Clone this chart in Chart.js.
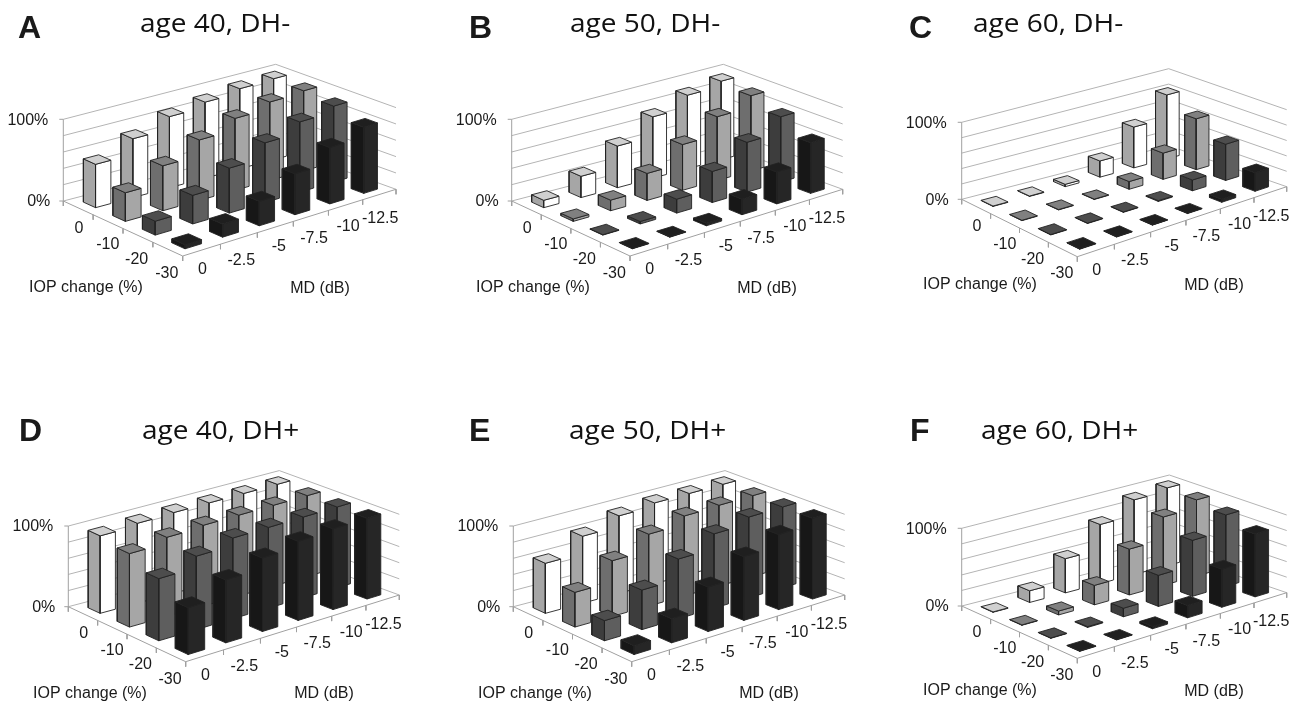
<!DOCTYPE html>
<html>
<head>
<meta charset="utf-8">
<title>IOP change and MD by age and DH</title>
<script src="https://cdn.jsdelivr.net/npm/chart.js@4"></script>
<style>
  html, body { margin: 0; padding: 0; background: #fff; }
  #page { position: relative; width: 1302px; height: 704px; overflow: hidden; }
  canvas { position: absolute; }
</style>
</head>
<body>
<div id="page"></div>
<script>
// categories
const iopLabels = ['0', '-10', '-20', '-30'];
const mdLabels = ['0', '-2.5', '-5', '-7.5', '-10', '-12.5'];
const zLabels = ['0%', '100%'];
const zLevels = [0, 20, 40, 60, 80, 100];

// series, one row per IOP change, one column per MD (%)
const valuesA = [
    [53, 72, 87, 93, 98, 99],
    [35, 55, 74, 88, 96, 98],
    [17, 35, 55, 73, 86, 93],
    [5, 16, 30, 50, 69, 81]
];
const valuesB = [
    [9, 26, 51, 75, 90, 96],
    [3, 13, 33, 56, 78, 92],
    [0.5, 3, 17, 38, 61, 80],
    [0.5, 0.5, 3, 19, 39, 62]
];
const valuesC = [
    [0.5, 0.5, 3, 21, 53, 83],
    [0.5, 0.5, 0.5, 10, 34, 66],
    [0.5, 0.5, 0.5, 1, 14, 47],
    [0.5, 0.5, 0.5, 0.5, 4, 24]
];
const valuesD = [
    [96, 99, 100, 100, 100, 100],
    [91, 98, 100, 100, 100, 100],
    [77, 91, 100, 100, 100, 100],
    [58, 78, 91, 98, 100, 100]
];
const valuesE = [
    [62, 83, 96, 100, 100, 100],
    [43, 69, 89, 99, 100, 100],
    [25, 49, 74, 92, 100, 100],
    [11, 30, 55, 79, 93, 100]
];
const valuesF = [
    [0.5, 15, 44, 76, 96, 100],
    [0.5, 5, 25, 59, 88, 98],
    [0.5, 1, 11, 40, 72, 92],
    [0.5, 0.5, 3, 16, 49, 81]
];

// one colour set per IOP row: top, left face, right face
const rowColors = [
    ['#d0d0d0', '#a6a6a6', '#ffffff'],
    ['#808080', '#6e6e6e', '#a6a6a6'],
    ['#4d4d4d', '#3d3d3d', '#5e5e5e'],
    ['#1f1f1f', '#171717', '#262626']
];
const edgeColor = '#222222';
const gridColor = '#b4b4b4';
const axisColor = '#a0a0a0';

// layout of each panel, page pixels. L/F/R/B = floor corners left, front, right, back
const panels = [
    { letter: 'A', title: 'age 40, DH-', values: valuesA, col: 0, row: 0,
      L: [63.3, 201], F: [182.7, 256], R: [396, 189.3], B: [275.7, 146], H: 81.7,
      letterAt: [18, 37.5], titleAt: [140, 32], iopAt: [86, 288], mdAt: [320, 289] },
    { letter: 'B', title: 'age 50, DH-', values: valuesB, col: 1, row: 0,
      L: [511.7, 201], F: [630, 256], R: [842.7, 189.3], B: [723.3, 146], H: 81.7,
      letterAt: [469, 37.5], titleAt: [570, 32], iopAt: [533, 288], mdAt: [767, 289] },
    { letter: 'C', title: 'age 60, DH-', values: valuesC, col: 2, row: 0,
      L: [961.7, 199.3], F: [1077.3, 256.7], R: [1286.7, 186.7], B: [1168.7, 145.7], H: 77,
      letterAt: [909, 37.5], titleAt: [973, 32], iopAt: [980, 285], mdAt: [1214, 286] },
    { letter: 'D', title: 'age 40, DH+', values: valuesD, col: 0, row: 1,
      L: [68.3, 606.7], F: [185.7, 661.7], R: [399.3, 595], B: [279.3, 551.3], H: 80.7,
      letterAt: [19, 441], titleAt: [142, 439], iopAt: [90, 694], mdAt: [324, 694] },
    { letter: 'E', title: 'age 50, DH+', values: valuesE, col: 1, row: 1,
      L: [513.3, 606.7], F: [631.7, 661.7], R: [844.7, 595], B: [725, 551.3], H: 80.7,
      letterAt: [469, 441], titleAt: [569, 439], iopAt: [535, 694], mdAt: [769, 694] },
    { letter: 'F', title: 'age 60, DH+', values: valuesF, col: 2, row: 1,
      L: [961.7, 606], F: [1077.3, 658.3], R: [1286.7, 592.7], B: [1169.3, 552.7], H: 77.7,
      letterAt: [910, 441], titleAt: [981, 439], iopAt: [980, 691], mdAt: [1214, 692] }
];

const panelW = 434, panelH = 352;

// label nudges from the axis edge, excel staggers them a bit
const iopNudge = [[0.7, 20.3], [-0.3, 23.3], [-1.3, 24], [-1, 24.3]];
const mdNudge = [[0.7, 19.7], [2.3, 22.3], [3.3, 20], [3, 22.3], [2.3, 21.7], [0.7, 24.3]];

// s runs along MD (front to right), t along IOP (front to left)
function floorPoint(p, s, t) {
    const w = s + 0.075 * s * (1 - s); // rough perspective
    const lerp = k => p.F[k] * (1 - w) * (1 - t) + p.R[k] * w * (1 - t) + p.L[k] * (1 - w) * t + p.B[k] * w * t;
    return { x: lerp(0), y: lerp(1) };
}
function point3d(p, s, t, v) {
    const q = floorPoint(p, s, t);
    return { x: q.x, y: q.y - p.H * v / 100 };
}

function buildDatasets(p) {
    const sets = [];
    const line = (pts, color) => sets.push({
        data: pts, showLine: true, fill: false, borderColor: color, borderWidth: 1,
        pointRadius: 0, clip: false, order: -sets.length
    });
    const face = (pts, color) => sets.push({
        data: pts.concat([pts[0]]), showLine: true, fill: 'shape', backgroundColor: color,
        borderColor: edgeColor, borderWidth: 0.9, borderJoinStyle: 'round',
        pointRadius: 0, clip: false, order: -sets.length
    });

    // back walls
    zLevels.forEach(z => {
        line([point3d(p, 0, 1, z), point3d(p, 1, 1, z), point3d(p, 1, 0, z)], gridColor);
    });
    line([point3d(p, 0, 1, 0), point3d(p, 0, 1, 100)], axisColor);
    [0, 100].forEach(z => {
        const a = point3d(p, 0, 1, z);
        line([a, { x: a.x - 4, y: a.y }], axisColor);
    });

    // floor edges and tick marks
    line([point3d(p, 0, 1, 0), point3d(p, 0, 0, 0), point3d(p, 1, 0, 0)], axisColor);
    for (let j = 0; j <= iopLabels.length; j++) {
        const a = floorPoint(p, 0, j / iopLabels.length);
        line([a, { x: a.x, y: a.y + 5 }], axisColor);
    }
    for (let i = 1; i <= mdLabels.length; i++) {
        const a = floorPoint(p, i / mdLabels.length, 0);
        line([a, { x: a.x, y: a.y + 5 }], axisColor);
    }

    // bars, back row first and right column first. far bars come out a bit thinner
    p.values.forEach((row, r) => {
        const t = (iopLabels.length - r - 0.5) / iopLabels.length;
        for (let i = row.length - 1; i >= 0; i--) {
            const s = (i + 0.5) / mdLabels.length, v = row[i];
            const frac = 0.445 - 0.04 * t - 0.03 * s;
            const ds = frac / 2 / mdLabels.length, dt = frac / 2 / iopLabels.length;
            const [cTop, cLeft, cRight] = rowColors[r];
            face([point3d(p, s - ds, t + dt, 0), point3d(p, s - ds, t - dt, 0),
                  point3d(p, s - ds, t - dt, v), point3d(p, s - ds, t + dt, v)], cLeft);
            face([point3d(p, s - ds, t - dt, 0), point3d(p, s + ds, t - dt, 0),
                  point3d(p, s + ds, t - dt, v), point3d(p, s - ds, t - dt, v)], cRight);
            face([point3d(p, s - ds, t - dt, v), point3d(p, s + ds, t - dt, v),
                  point3d(p, s + ds, t + dt, v), point3d(p, s - ds, t + dt, v)], cTop);
        }
    });
    return sets;
}

const panelText = {
    id: 'panelText',
    afterDraw(chart, args, opts) {
        const p = opts.panel, ctx = chart.ctx;
        const sx = v => chart.scales.x.getPixelForValue(v);
        const sy = v => chart.scales.y.getPixelForValue(v);
        const put = (txt, pos, font, align, base) => {
            ctx.font = font;
            ctx.textAlign = align;
            ctx.textBaseline = base;
            ctx.fillStyle = '#1a1a1a';
            ctx.fillText(txt, sx(pos[0]), sy(pos[1]));
        };
        ctx.save();
        put(p.letter, p.letterAt, 'bold 32px "Liberation Sans"', 'left', 'alphabetic');

        // title is wider than any installed font at this height, so stretch it
        ctx.save();
        ctx.translate(sx(p.titleAt[0]), sy(p.titleAt[1]));
        ctx.scale(1.12, 1);
        ctx.font = '25px "Open Sans"';
        ctx.textAlign = 'left';
        ctx.textBaseline = 'alphabetic';
        ctx.fillStyle = '#111111';
        ctx.fillText(p.title, 0, 0);
        ctx.restore();

        const small = '16px "Liberation Sans"';
        put(zLabels[0], [p.L[0] - 13, p.L[1] + 1], small, 'right', 'middle');
        put(zLabels[1], [p.L[0] - 15, p.L[1] - p.H + 1], small, 'right', 'middle');
        iopLabels.forEach((txt, j) => {
            const a = floorPoint(p, 0, 1 - (j + 0.5) / iopLabels.length);
            put(txt, [a.x + iopNudge[j][0], a.y + iopNudge[j][1]], small, 'center', 'middle');
        });
        mdLabels.forEach((txt, i) => {
            const a = floorPoint(p, (i + 0.5) / mdLabels.length, 0);
            put(txt, [a.x + mdNudge[i][0], a.y + mdNudge[i][1]], small, 'center', 'middle');
        });
        put('IOP change (%)', p.iopAt, small, 'center', 'middle');
        put('MD (dB)', p.mdAt, small, 'center', 'middle');
        ctx.restore();
    }
};

panels.forEach(p => {
    const left = p.col * panelW, top = p.row * panelH;
    const cv = document.createElement('canvas');
    cv.width = panelW;
    cv.height = panelH;
    cv.style.left = left + 'px';
    cv.style.top = top + 'px';
    cv.style.width = panelW + 'px';
    cv.style.height = panelH + 'px';
    document.getElementById('page').appendChild(cv);

    new Chart(cv.getContext('2d'), {
        type: 'scatter',
        data: { datasets: buildDatasets(p) },
        plugins: [panelText],
        options: {
            responsive: false,
            animation: false,
            devicePixelRatio: 1,
            layout: { padding: 0 },
            scales: {
                x: { type: 'linear', display: false, min: left, max: left + panelW },
                y: { type: 'linear', display: false, reverse: true, min: top, max: top + panelH }
            },
            plugins: {
                legend: { display: false },
                tooltip: { enabled: false },
                panelText: { panel: p }
            }
        }
    });
});
</script>
</body>
</html>
